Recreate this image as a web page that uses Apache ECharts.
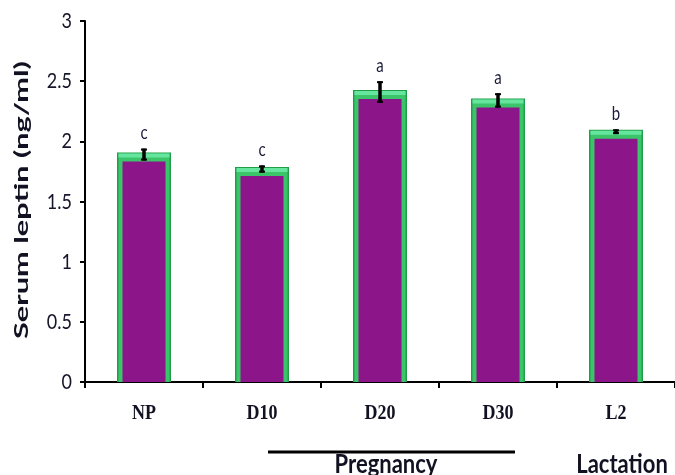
<!DOCTYPE html>
<html>
<head>
<meta charset="utf-8">
<script src="https://cdn.jsdelivr.net/npm/echarts@6/dist/echarts.min.js"></script>
<style>
  html, body { margin: 0; padding: 0; background: #fff; }
  #chart { width: 675px; height: 475px; }
</style>
</head>
<body>
<div id="chart"></div>
<script>
// Serum leptin by physiological stage
const categories = ['NP', 'D10', 'D20', 'D30', 'L2'];
const leptin = [1.89, 1.77, 2.41, 2.34, 2.08];
const leptinErr = [0.05, 0.03, 0.09, 0.06, 0.02];
const sigLetters = ['c', 'c', 'a', 'a', 'b'];
const yTicks = [0, 0.5, 1, 1.5, 2, 2.5, 3];

const PURPLE = '#8b1589';
const GREEN_DARK = '#1f9e48';
const GREEN = '#3cc46a';
const GREEN_TOP = '#66e59e';
const INK = '#111122';

// the lettering in this figure is tall and narrow
const STRETCH = 1.22;

function textWidth(text, font) {
  const ctx = document.createElement('canvas').getContext('2d');
  ctx.font = font;
  return ctx.measureText(text).width;
}

const chart = echarts.init(document.getElementById('chart'));

const barData = categories.map((c, i) => [i, leptin[i]]);
const errData = categories.map((c, i) => [i, leptin[i] - leptinErr[i], leptin[i] + leptinErr[i]]);
const tickData = yTicks.map(v => [0, v]);

const yName = 'Serum leptin (ng/ml)';
const yNameFont = 'bold 18px Lato';
const yNameScale = 278 / textWidth(yName, yNameFont);

chart.setOption({
  animation: false,
  grid: { left: 85, right: -10, top: 21, bottom: 93 },
  xAxis: {
    type: 'category',
    data: categories,
    axisLine: { lineStyle: { color: '#000', width: 2 } },
    axisTick: { show: true, length: 6, lineStyle: { color: '#000', width: 2 } },
    axisLabel: { show: false }
  },
  yAxis: {
    type: 'value',
    min: 0,
    max: 3,
    interval: 0.5,
    splitLine: { show: false },
    axisLine: { show: true, lineStyle: { color: '#000', width: 2 } },
    axisTick: { show: true, length: 5, lineStyle: { color: '#000', width: 2 } },
    axisLabel: { show: false }
  },
  series: [
    {
      // bars: green frame, purple fill, lighter green cap
      type: 'custom',
      data: barData,
      renderItem: function (params, api) {
        const base = api.coord([api.value(0), 0]);
        const top = api.coord([api.value(0), api.value(1)]);
        const w = 54;
        const x0 = base[0] - w / 2;
        const y0 = top[1] - 2;
        const h = base[1] - y0;
        return {
          type: 'group',
          children: [
            { type: 'rect', shape: { x: x0, y: y0, width: w, height: h }, style: { fill: GREEN_DARK } },
            { type: 'rect', shape: { x: x0 + 1.5, y: y0 + 1, width: w - 3, height: h - 1 }, style: { fill: GREEN } },
            { type: 'rect', shape: { x: x0 + 1.5, y: y0 + 1, width: w - 3, height: 4 }, style: { fill: GREEN_TOP } },
            { type: 'rect', shape: { x: x0 + 5.5, y: y0 + 9, width: w - 11, height: h - 9 }, style: { fill: PURPLE } }
          ]
        };
      },
      encode: { x: 0, y: 1 },
      z: 2
    },
    {
      // error bars with significance letters
      type: 'custom',
      data: errData,
      renderItem: function (params, api) {
        const lo = api.coord([api.value(0), api.value(1)]);
        const hi = api.coord([api.value(0), api.value(2)]);
        const cx = lo[0];
        const ls = { stroke: '#000', lineWidth: 3.5 };
        return {
          type: 'group',
          children: [
            { type: 'line', shape: { x1: cx, y1: hi[1], x2: cx, y2: lo[1] }, style: ls },
            { type: 'line', shape: { x1: cx - 3, y1: hi[1] + 1, x2: cx + 3, y2: hi[1] + 1 }, style: { stroke: '#000', lineWidth: 2 } },
            { type: 'line', shape: { x1: cx - 3, y1: lo[1] - 1, x2: cx + 3, y2: lo[1] - 1 }, style: { stroke: '#000', lineWidth: 2 } },
            {
              type: 'text',
              x: cx,
              y: hi[1] - 6,
              scaleY: STRETCH,
              style: {
                text: sigLetters[params.dataIndex],
                align: 'center',
                verticalAlign: 'bottom',
                font: '15px Lato',
                fill: '#1b1b3a'
              }
            }
          ]
        };
      },
      encode: { x: 0, y: [1, 2] },
      z: 5
    },
    {
      // value-axis tick labels
      type: 'custom',
      data: tickData,
      renderItem: function (params, api) {
        const p = api.coord([0, api.value(1)]);
        const left = params.coordSys.x;
        return {
          type: 'text',
          x: left - 13,
          y: p[1],
          scaleY: STRETCH,
          style: {
            text: String(yTicks[params.dataIndex]),
            align: 'right',
            verticalAlign: 'middle',
            font: '18px Lato',
            fill: '#16162a'
          }
        };
      },
      encode: { x: 0, y: 1 },
      clip: false,
      z: 5
    },
    {
      // category labels under the axis
      type: 'custom',
      data: categories.map((c, i) => [i, 0]),
      renderItem: function (params, api) {
        const p = api.coord([api.value(0), 0]);
        return {
          type: 'text',
          x: p[0],
          y: p[1] + 32,
          scaleY: 1.12,
          style: {
            text: categories[params.dataIndex],
            align: 'center',
            verticalAlign: 'middle',
            font: 'bold 18px "Liberation Serif"',
            fill: INK
          }
        };
      },
      encode: { x: 0, y: 1 },
      clip: false,
      z: 5
    }
  ],
  graphic: [
    {
      type: 'text',
      x: 22, y: 200,
      rotation: Math.PI / 2,
      scaleX: yNameScale,
      style: { text: yName, font: yNameFont, fill: INK, align: 'center', verticalAlign: 'middle' }
    },
    { type: 'line', shape: { x1: 268, y1: 452, x2: 515, y2: 452 }, style: { stroke: '#000', lineWidth: 3 } },
    {
      type: 'text', x: 386, y: 464,
      scaleY: STRETCH,
      style: { text: 'Pregnancy', font: 'bold 22px Lato', fill: INK, align: 'center', verticalAlign: 'middle' }
    },
    {
      type: 'text', x: 622, y: 464,
      scaleY: STRETCH,
      style: { text: 'Lactation', font: 'bold 22px Lato', fill: INK, align: 'center', verticalAlign: 'middle' }
    }
  ]
});
</script>
</body>
</html>
